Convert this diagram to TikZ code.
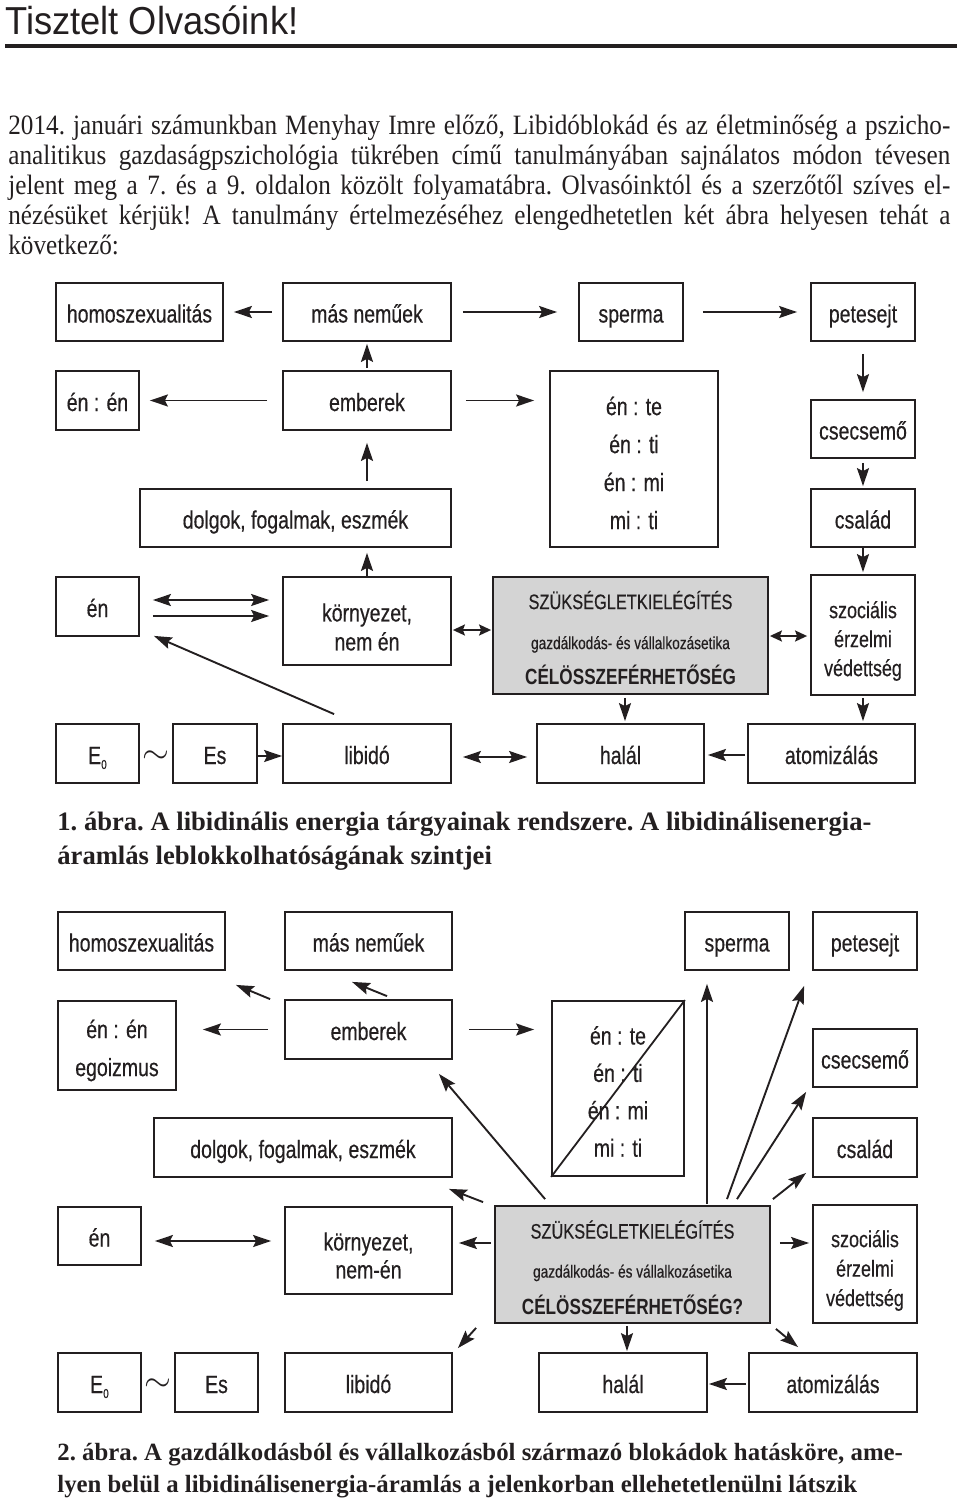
\documentclass[tikz,border=0pt]{standalone}
\usepackage{fontspec}
\setmainfont{Liberation Serif}
\newfontfamily\condsans[FakeStretch=0.78,UprightFeatures={FakeBold=0.4}]{Liberation Sans}
\newfontfamily\titlesans[FakeStretch=0.93]{Liberation Sans}
\newfontfamily\bodyserif[FakeStretch=0.9]{Liberation Serif}
\usetikzlibrary{arrows.meta,calc}
\definecolor{inkc}{RGB}{35,31,32}
\definecolor{szgray}{RGB}{212,212,212}
\newcommand{\boxfont}{\condsans\fontsize{12.5}{15}\selectfont}
\newcommand{\Ezero}{E\raisebox{-2.5pt}{\fontsize{6.5}{7}\selectfont 0}}
\newcommand{\tallstrut}[1]{\rule{0pt}{#1}}
\begin{document}
\begin{tikzpicture}[x=0.5pt,y=-0.5pt,
    box/.style={draw=inkc,line width=0.9pt,inner sep=0pt,text=inkc,align=center,font=\boxfont},
    bx/.style 2 args={box,minimum width=#1,minimum height=#2,text height=10.5pt,text depth=0pt},
    mbx/.style 2 args={box,minimum width=#1,minimum height=#2},
    arr/.style={draw=inkc,line width=0.95pt,-{Stealth[length=9pt,width=6pt,inset=1.5pt]}},
    darr/.style={draw=inkc,line width=0.95pt,{Stealth[length=9pt,width=6pt,inset=1.5pt]}-{Stealth[length=9pt,width=6pt,inset=1.5pt]}},
    sdarr/.style={draw=inkc,line width=0.95pt,{Stealth[length=6pt,width=5.5pt,inset=1pt]}-{Stealth[length=6pt,width=5.5pt,inset=1pt]}},
    tld/.style={inner sep=0pt,text=inkc,font=\fontsize{17}{17}\selectfont}]
    \useasboundingbox (0,0) rectangle (960,1499);

    \node[anchor=base west,inner sep=0pt,text=inkc,font=\titlesans\fontsize{19.5}{22}\selectfont] (title) at (5,34) {Tisztelt Olvasóink!};
    \draw[inkc,line width=2pt] (5,46) -- (957,46);
    \node[anchor=north west,inner sep=0pt,text width=471pt,align=justify,text=inkc,
        font=\bodyserif\fontsize{14}{15}\selectfont] (intro) at (8,115)
        {\frenchspacing\tolerance=9999\relax
        2014. januári számunkban Menyhay Imre előző, Libidóblokád és az életminőség a pszicho-\linebreak
        analitikus gazdaságpszichológia tükrében című tanulmányában sajnálatos módon tévesen\linebreak
        jelent meg a 7. és a 9. oldalon közölt folyamatábra. Olvasóinktól és a szerzőtől szíves el-\linebreak
        nézésüket kérjük! A tanulmány értelmezéséhez elengedhetetlen két ábra helyesen tehát a\linebreak
        következő:};

    \node[bx={83.5pt}{29pt}] (homoA) at (139.5,312) {homoszexualitás};
    \node[bx={84pt}{29pt}] (masA) at (367,312) {más neműek};
    \node[bx={52pt}{29pt}] (spermaA) at (631,312) {sperma};
    \node[bx={52pt}{29pt}] (peteA) at (863,312) {petesejt};
    \node[bx={41.5pt}{29.5pt}] (enenA) at (97.5,400.5) {én : én};
    \node[bx={84pt}{29.5pt}] (embA) at (367,400.5) {emberek};
    \node[bx={155.5pt}{29pt}] (dolgA) at (295.5,518) {dolgok, fogalmak, eszmék};
    \node[mbx={84pt}{88pt},font=\condsans\fontsize{12.5}{19}\selectfont] (entA) at (634,459) {\tallstrut{13.2pt}én : te\\én : ti\\én : mi\\mi : ti};
    \node[bx={52pt}{29pt}] (csecsA) at (863,429) {csecsemő};
    \node[bx={52pt}{29pt}] (csalA) at (863,518) {család};
    \node[bx={41.5pt}{29.5pt}] (enA) at (97.5,606.5) {én};
    \node[mbx={84pt}{44pt},font=\condsans\fontsize{12.5}{14.5}\selectfont] (kornyA) at (367,621) {\tallstrut{15.1pt}környezet,\\nem én};
    \node[mbx={137.5pt}{58.5pt},fill=szgray,font=\condsans\fontsize{10.5}{20}\selectfont] (szukA) at (630.5,635.5)
        {\tallstrut{11.2pt}SZÜKSÉGLETKIELÉGÍTÉS\\{\fontsize{8.75}{10}\selectfont gazdálkodás- és vállalkozásetika}\\[-2.5pt]{\bfseries\fontsize{11}{13}\selectfont CÉLÖSSZEFÉRHETŐSÉG}};
    \node[mbx={52pt}{60pt},font=\condsans\fontsize{11.5}{14.5}\selectfont] (szocA) at (863,635) {\tallstrut{14.5pt}szociális\\érzelmi\\védettség};
    \node[bx={41.5pt}{29.5pt}] (E0A) at (97.5,753.5) {\Ezero};
    \node[tld] (tildeA) at (156,757) {$\sim$};
    \node[bx={42pt}{29.5pt}] (EsA) at (215,753.5) {Es};
    \node[bx={84pt}{29.5pt}] (libA) at (367,753.5) {libidó};
    \node[bx={83.5pt}{29.5pt}] (halA) at (620.5,753.5) {halál};
    \node[bx={83.5pt}{29.5pt}] (atomA) at (831.5,753.5) {atomizálás};

    \draw[arr,shorten <=5pt,shorten >=5pt] (masA.west) -- (homoA.east);
    \draw[arr,shorten <=5.5pt,shorten >=10.5pt] (masA.east) -- (spermaA.west);
    \draw[arr,shorten <=9.5pt,shorten >=6.5pt] (spermaA.east) -- (peteA.west);
    \draw[arr,shorten <=1pt,shorten >=1pt] (embA.north) -- (masA.south);
    \draw[arr,shorten <=7.5pt,shorten >=5pt] (embA.west) -- (embA.west -| enenA.east);
    \draw[arr,shorten <=7pt,shorten >=7.5pt] (embA.east) -- (embA.east -| entA.west);
    \draw[arr,shorten <=3.5pt,shorten >=6pt] (embA.south |- dolgA.north) -- (embA.south);
    \draw[arr,shorten <=6pt,shorten >=3.5pt] (peteA.south) -- (csecsA.north);
    \draw[arr,shorten <=2pt,shorten >=1pt] (csecsA.south) -- (csalA.north);
    \draw[arr,shorten >=1pt] (csalA.south) -- (szocA.north);
    \draw[darr,shorten <=6.5pt,shorten >=6.5pt] (enA.east |- 0,600) -- (kornyA.west |- 0,600);
    \draw[arr,shorten <=6.5pt,shorten >=6.5pt] (enA.east |- 0,616) -- (kornyA.west |- 0,616);
    \draw[arr] ($(libA.north west)+(52,-9)$) -- ($(enA.south east)+(14,-1)$);
    \draw[sdarr,shorten <=0.5pt,shorten >=0.5pt] (kornyA.east |- 0,630) -- (szukA.west |- 0,630);
    \draw[arr,shorten >=2.5pt] (kornyA.north) -- (kornyA.north |- dolgA.south);
    \draw[sdarr,shorten <=0.5pt,shorten >=1.5pt] (szukA.east |- 0,636) -- (szocA.west |- 0,636);
    \draw[arr,shorten <=1.5pt,shorten >=1pt] (625,0 |- szukA.south) -- (625,0 |- halA.north);
    \draw[arr,shorten <=1pt,shorten >=1pt] (szocA.south) -- (szocA.south |- atomA.north);
    \draw[arr,shorten <=1pt,shorten >=1.5pt] (atomA.west |- 0,755) -- (halA.east |- 0,755);
    \draw[darr,shorten <=5.5pt,shorten >=4.5pt] (libA.east |- 0,757) -- (halA.west |- 0,757);
    \draw[arr] (EsA.east |- 0,756) -- (libA.west |- 0,756);

    \node[anchor=north west,inner sep=0pt,align=left,text=inkc,font=\bfseries\fontsize{13.3}{17}\selectfont\frenchspacing] (capA) at (57,811.5)
        {1. ábra. A libidinális energia tárgyainak rendszere. A libidinálisenergia-\\áramlás leblokkolhatóságának szintjei};

    \node[bx={83.5pt}{29pt}] (homoB) at (141.5,941) {homoszexualitás};
    \node[bx={83.5pt}{29pt}] (masB) at (368.5,941) {más neműek};
    \node[bx={52pt}{29pt}] (spermaB) at (737,941) {sperma};
    \node[bx={52pt}{29pt}] (peteB) at (865,941) {petesejt};
    \node[mbx={59pt}{44.5pt},font=\condsans\fontsize{12.5}{19}\selectfont] (enenB) at (117,1045.5) {\tallstrut{14.2pt}én : én\\egoizmus};
    \node[bx={83.5pt}{29.5pt}] (embB) at (368.5,1029.5) {emberek};
    \node[mbx={66pt}{87.5pt},font=\condsans\fontsize{12.5}{18.7}\selectfont] (entB) at (618,1088.5) {\tallstrut{12.2pt}én : te\\én : ti\\én : mi\\mi : ti};
    \node[bx={52pt}{29pt}] (csecsB) at (865,1058) {csecsemő};
    \node[bx={52pt}{29.5pt}] (csalB) at (865,1147.5) {család};
    \node[bx={149pt}{29.5pt}] (dolgB) at (303,1147.5) {dolgok, fogalmak, eszmék};
    \node[bx={41.5pt}{29pt}] (enB) at (99.5,1236) {én};
    \node[mbx={83.5pt}{43.5pt},font=\condsans\fontsize{12.5}{14}\selectfont] (kornyB) at (368.5,1250.5) {\tallstrut{14.1pt}környezet,\\nem-én};
    \node[mbx={137.5pt}{58.5pt},fill=szgray,font=\condsans\fontsize{10.5}{19.5}\selectfont] (szukB) at (632.5,1264.5)
        {\tallstrut{12.2pt}SZÜKSÉGLETKIELÉGÍTÉS\\{\fontsize{8.75}{10}\selectfont gazdálkodás- és vállalkozásetika}\\[-1pt]{\bfseries\fontsize{11}{13}\selectfont CÉLÖSSZEFÉRHETŐSÉG?}};
    \node[mbx={52pt}{59pt},font=\condsans\fontsize{11.5}{14.75}\selectfont] (szocB) at (865,1264) {\tallstrut{15pt}szociális\\érzelmi\\védettség};
    \node[bx={41.5pt}{29.5pt}] (E0B) at (99.5,1382.5) {\Ezero};
    \node[tld] (tildeB) at (158,1385) {$\sim$};
    \node[bx={41.5pt}{29.5pt}] (EsB) at (216.5,1382.5) {Es};
    \node[bx={83.5pt}{29.5pt}] (libB) at (368.5,1382.5) {libidó};
    \node[bx={84pt}{29.5pt}] (halB) at (623,1382.5) {halál};
    \node[bx={84pt}{29.5pt}] (atomB) at (833,1382.5) {atomizálás};

    \draw[arr,shorten <=8pt,shorten >=13pt] (embB.west) -- (embB.west -| enenB.east);
    \draw[arr] ($(embB.north west)+(-14,0)$) -- ($(homoB.south east)+(10,14)$);
    \draw[arr] ($(embB.north)+(18.5,-3)$) -- ($(masB.south)+(-16.5,11)$);
    \draw[arr,shorten <=8pt,shorten >=8.5pt] (embB.east) -- (embB.east -| entB.west);
    \draw[inkc,line width=0.9pt] (entB.south west) -- (entB.north east);
    \draw[arr] ($(szukB.north west)+(51,-6)$) -- ($(embB.south east)+(-14,14)$);
    \draw[arr] ($(szukB.north west)+(-11,-3)$) -- ($(dolgB.south east)+(-4,11)$);
    \draw[arr,shorten <=1.5pt,shorten >=3pt] (szukB.west |- 0,1243) -- (kornyB.east |- 0,1243);
    \draw[arr] ($(szukB.south west)+(-18,4)$) -- ($(libB.north east)+(5,-4)$);
    \draw[arr,shorten <=0.5pt,shorten >=6.5pt] (707,0 |- szukB.north) -- (707,0 |- spermaB.south);
    \draw[arr] ($(szukB.north)+(94.5,-6)$) -- ($(peteB.south west)+(-8,15)$);
    \draw[arr] ($(szukB.north)+(104.5,-6)$) -- ($(csecsB.south west)+(-6,4)$);
    \draw[arr] ($(szukB.north east)+(2,-6)$) -- ($(csalB.south west)+(-6,-5)$);
    \draw[arr,shorten <=4.5pt,shorten >=1.5pt] (szukB.east |- 0,1243) -- (szocB.west |- 0,1243);
    \draw[arr,shorten <=1pt,shorten >=0.5pt] (627,0 |- szukB.south) -- (627,0 |- halB.north);
    \draw[arr] ($(szukB.south east)+(5,5)$) -- ($(atomB.north west)+(50,-5)$);
    \draw[arr,shorten <=1pt,shorten >=0.5pt] (atomB.west |- 0,1384) -- (halB.east |- 0,1384);
    \draw[darr,shorten <=6.5pt,shorten >=6.5pt] (enB.east |- 0,1241) -- (kornyB.west |- 0,1241);

    \node[anchor=north west,inner sep=0pt,align=left,text=inkc,font=\bfseries\fontsize{12.4}{16}\selectfont\frenchspacing] (capB) at (57,1442.5)
        {2. ábra. A gazdálkodásból és vállalkozásból származó blokádok hatásköre, ame-\\lyen belül a libidinálisenergia-áramlás a jelenkorban ellehetetlenülni látszik};
\end{tikzpicture}
\end{document}
